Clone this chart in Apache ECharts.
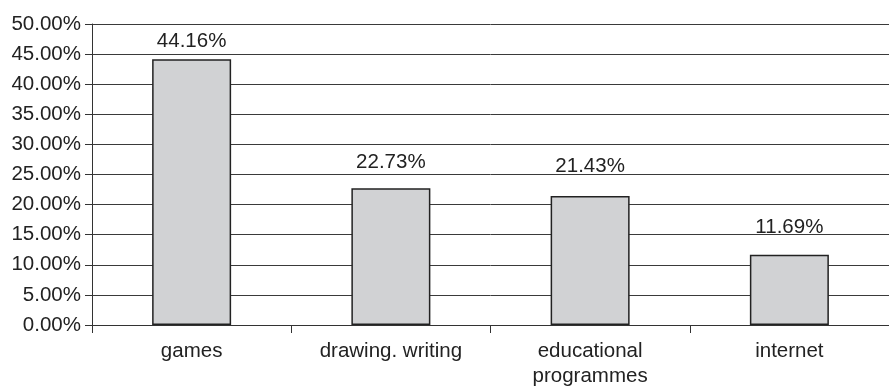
<!DOCTYPE html>
<html>
<head>
<meta charset="utf-8">
<script src="https://cdn.jsdelivr.net/npm/echarts@6/dist/echarts.min.js"></script>
<style>html,body{margin:0;padding:0;background:#fff}#c{width:889px;height:389px}</style>
</head>
<body>
<div id="c"></div>
<script>
var categories = ['games', 'drawing. writing', 'educational\nprogrammes', 'internet'];
var values = [44.16, 22.73, 21.43, 11.69];
var labelGaps = [7, 15, 19, 17];
var yMin = 0, yMax = 50, yStep = 5;

var chart = echarts.init(document.getElementById('c'), null, {renderer: 'canvas'});
var font = '"Liberation Sans", Arial, sans-serif';
chart.setOption({
  animation: false,
  grid: {left: 92, right: -7, top: 24, bottom: 57},
  xAxis: {
    type: 'category',
    data: categories,
    axisLine: {lineStyle: {color: '#333', width: 1}},
    axisTick: {show: true, length: 8, lineStyle: {color: '#333'}},
    axisLabel: {color: '#222', fontSize: 20.5, fontFamily: font, margin: 14, lineHeight: 25, interval: 0}
  },
  yAxis: {
    type: 'value',
    min: yMin, max: yMax, interval: yStep,
    axisLine: {show: true, lineStyle: {color: '#333', width: 1}},
    axisTick: {show: true, length: 7, lineStyle: {color: '#333'}},
    splitLine: {lineStyle: {color: '#3a3a3a', width: 1}},
    axisLabel: {color: '#222', fontSize: 20.5, fontFamily: font, margin: 11,
      formatter: function (v) { return v.toFixed(2) + '%'; }}
  },
  series: [{
    type: 'bar',
    barWidth: 79,
    data: values.map(function (v, i) {
      return {value: v, label: {distance: labelGaps[i]}};
    }),
    itemStyle: {color: '#d1d2d4', borderColor: '#222', borderWidth: 1.5},
    label: {show: true, position: 'top', color: '#222', fontSize: 20.5, fontFamily: font,
      formatter: function (p) { return p.value.toFixed(2) + '%'; }}
  }]
});
</script>
</body>
</html>
